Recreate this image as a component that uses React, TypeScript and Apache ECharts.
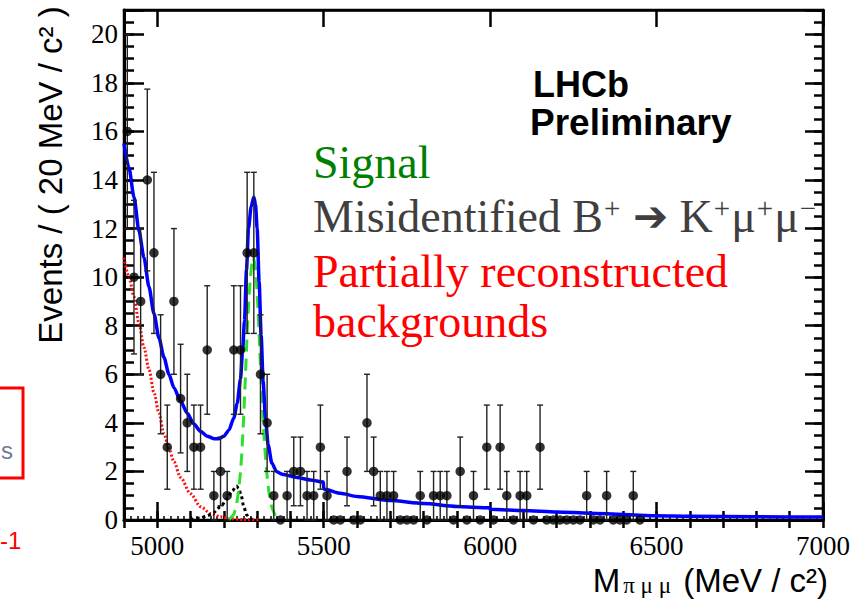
import React, { useEffect, useRef } from "react";
import * as echarts from "echarts";

// Mass window and binning of the pi mu mu candidates
const X_MIN = 4900;
const X_MAX = 7000;
const Y_MAX = 21;
const BIN_WIDTH = 20;

// Events per 20 MeV bin, starting with the 4900-4920 bin
const binCounts = [
  16, 10, 9, 14, 11, 6, 3, 9, 5, 4,
  3, 3, 7, 1, 2, 1, 7, 7, 11, 11,
  6, 4, 1, 0, 1, 2, 2, 1, 1, 3,
  1, 0, 0, 2, 0, 0, 4, 2, 1, 1,
  1, 0, 0, 0, 1, 0, 1, 1, 1, 0,
  2, 0, 1, 0, 3, 0, 3, 1, 0, 1,
  1, 0, 3, 0, 0, 0, 0, 0, 0, 1,
  0, 0, 1, 0, 0, 0, 1, 0,
];

// Total fit
const totalMass = [
  4900, 4915, 4930, 4945, 4960, 4975, 4990, 5005, 5020, 5035, 5050, 5070, 5090,
  5110, 5130, 5150, 5170, 5185, 5200, 5215, 5230, 5240, 5250, 5256, 5262, 5268,
  5274, 5282, 5290, 5295, 5300, 5306, 5312, 5318, 5325, 5333, 5344, 5358, 5375,
  5420, 5460, 5499, 5500, 5550, 5600, 5700, 5800, 5900, 5999, 6000, 6100, 6200,
  6300, 6400, 6500, 6600, 6800, 7000,
];
const totalValue = [
  15.5, 14.5, 13.3, 11.9, 10.8, 9.6, 8.5, 7.5, 6.7, 6.0, 5.45, 4.9, 4.4,
  3.95, 3.65, 3.45, 3.35, 3.35, 3.45, 3.7, 4.2, 4.8, 5.8, 6.9, 8.2, 10.3,
  12.0, 12.9, 13.3, 13.0, 12.0, 9.8, 7.6, 5.7, 4.2, 3.1, 2.35, 2.0, 1.88,
  1.75, 1.65, 1.56, 1.28, 1.1, 0.97, 0.8, 0.68, 0.56, 0.5, 0.44, 0.39, 0.33,
  0.28, 0.23, 0.17, 0.15, 0.13, 0.12,
];

// Signal component
const signalMass = [
  5215, 5230, 5240, 5250, 5258, 5265, 5272, 5280, 5288, 5295, 5302, 5308, 5314,
  5320, 5328, 5336, 5345, 5355, 5365,
];
const signalValue = [
  0, 0.25, 0.8, 2.0, 3.8, 6.0, 8.3, 10.0, 10.8, 10.3, 8.8, 7.0, 5.2,
  3.6, 2.1, 1.1, 0.5, 0.18, 0,
];

// Misidentified B+ -> K+ mu+ mu- component
const misidMass = [5100, 5130, 5150, 5170, 5190, 5210, 5225, 5238, 5245, 5252, 5260, 5268, 5278, 5290];
const misidValue = [0.02, 0.08, 0.18, 0.32, 0.55, 0.88, 1.2, 1.4, 1.3, 1.0, 0.55, 0.22, 0.05, 0];

// Partially reconstructed backgrounds
const partRecoMass = [
  4900, 4915, 4930, 4945, 4960, 4975, 4990, 5005, 5020, 5035, 5050, 5070, 5100,
  5130, 5160, 5190, 5220, 5260, 5310,
];
const partRecoValue = [
  10.8, 10.0, 9.2, 8.1, 7.1, 6.2, 5.25, 4.4, 3.55, 2.95, 2.4, 1.75, 1.08,
  0.55, 0.27, 0.13, 0.05, 0.02, 0,
];

const SERIF = "'Liberation Serif', 'DejaVu Serif', serif";
const SANS = "'Liberation Sans', Arial, 'DejaVu Sans', sans-serif";

const pairs = (xs: number[], ys: number[]) => xs.map((x, i) => [x, ys[i]]);

export default function App() {
  const ref = useRef<HTMLDivElement>(null);

  useEffect(() => {
    if (!ref.current) return;
    const chart = echarts.init(ref.current, undefined, { renderer: "svg" });

    const points = binCounts.map((n, i) => [X_MIN + BIN_WIDTH * (i + 0.5), n]);
    const errors = binCounts
      .map((n, i) => [X_MIN + BIN_WIDTH * (i + 0.5), n - Math.sqrt(n), n + Math.sqrt(n), n])
      .filter((d) => d[3] > 0);

    const tickLine = { color: "#000", width: 2.5 };
    const hidden = { show: false };

    const xBase = {
      type: "value" as const,
      min: X_MIN,
      max: X_MAX,
      splitLine: hidden,
      axisLabel: hidden,
      axisLine: hidden,
    };
    const yBase = {
      type: "value" as const,
      min: 0,
      max: Y_MAX,
      splitLine: hidden,
      axisLabel: hidden,
      axisLine: hidden,
    };

    const mainText = { fontFamily: SERIF, fontSize: 46, lineHeight: 46, fill: "#3f3f3f" };
    const supText = {
      fontFamily: SERIF,
      fontSize: 29,
      lineHeight: 30,
      fill: "#3f3f3f",
      verticalAlign: "top",
      padding: [0, 1, 0, 1],
    };

    const option: any = {
      animation: false,
      backgroundColor: "#fff",
      grid: {
        left: 124,
        right: 45,
        top: 10,
        bottom: 84,
        show: true,
        borderColor: "#000",
        borderWidth: 2.5,
        backgroundColor: "transparent",
      },
      xAxis: [
        {
          ...xBase,
          position: "bottom",
          minInterval: 500,
          maxInterval: 500,
          axisLine: { show: true, onZero: false, lineStyle: { color: "#000", width: 3 } },
          axisTick: { show: true, inside: true, length: 18, lineStyle: tickLine },
          axisLabel: {
            show: true,
            margin: 12,
            fontFamily: "Liberation Serif",
            fontSize: 27,
            color: "#000",
            formatter: (v: number) => (v % 500 === 0 ? String(v) : ""),
          },
        },
        {
          ...xBase,
          position: "bottom",
          interval: 100,
          axisTick: { show: true, inside: true, length: 9, lineStyle: tickLine },
        },
        {
          ...xBase,
          position: "bottom",
          interval: 20,
          axisTick: { show: true, inside: true, length: 4, lineStyle: { color: "#000", width: 1.5 } },
        },
        {
          ...xBase,
          position: "top",
          minInterval: 500,
          maxInterval: 500,
          axisLine: { show: true, onZero: false, lineStyle: { color: "#000", width: 2.5 } },
          axisTick: { show: true, inside: true, length: 17, lineStyle: tickLine },
        },
        {
          ...xBase,
          position: "top",
          interval: 100,
          axisTick: { show: true, inside: true, length: 8, lineStyle: tickLine },
        },
      ],
      yAxis: [
        {
          ...yBase,
          position: "left",
          interval: 2,
          axisLine: { show: true, onZero: false, lineStyle: { color: "#000", width: 3 } },
          axisTick: { show: true, inside: true, length: 20, lineStyle: tickLine },
          axisLabel: {
            show: true,
            margin: 6,
            fontFamily: "Liberation Serif",
            fontSize: 27,
            color: "#000",
            formatter: (v: number) => (v <= 20 ? String(v) : ""),
          },
        },
        {
          ...yBase,
          position: "left",
          interval: 0.5,
          axisTick: { show: true, inside: true, length: 10, lineStyle: tickLine },
        },
        {
          ...yBase,
          position: "right",
          interval: 2,
          axisLine: { show: true, onZero: false, lineStyle: { color: "#000", width: 2.5 } },
          axisTick: { show: true, inside: true, length: 18, lineStyle: tickLine },
        },
        {
          ...yBase,
          position: "right",
          interval: 0.5,
          axisTick: { show: true, inside: true, length: 9, lineStyle: tickLine },
        },
      ],
      series: [
        {
          name: "Partially reconstructed",
          type: "line",
          data: pairs(partRecoMass, partRecoValue),
          showSymbol: false,
          smooth: 0.3,
          smoothMonotone: "x",
          lineStyle: { color: "#ff1010", width: 3, type: [2, 2] },
          z: 3,
        },
        {
          name: "Misidentified",
          type: "line",
          data: pairs(misidMass, misidValue),
          showSymbol: false,
          smooth: 0.3,
          smoothMonotone: "x",
          lineStyle: { color: "#000", width: 3, type: [3, 3] },
          z: 3,
        },
        {
          name: "Signal",
          type: "line",
          data: pairs(signalMass, signalValue),
          showSymbol: false,
          smooth: 0.3,
          lineStyle: { color: "#2ee02e", width: 3, type: [12, 7] },
          z: 4,
        },
        {
          name: "Total",
          type: "line",
          data: pairs(totalMass, totalValue),
          showSymbol: false,
          smooth: 0.25,
          smoothMonotone: "x",
          lineStyle: { color: "#0000ff", width: 3.5 },
          z: 5,
        },
        {
          name: "Errors",
          type: "custom",
          data: errors,
          z: 6,
          renderItem: (_params: any, api: any) => {
            const x = api.value(0);
            const top = api.coord([x, api.value(2)]);
            const bot = api.coord([x, api.value(1)]);
            const cap = 3;
            const st = { stroke: "#222", lineWidth: 1.4 };
            return {
              type: "group",
              children: [
                { type: "line", shape: { x1: top[0], y1: top[1], x2: bot[0], y2: bot[1] }, style: st },
                { type: "line", shape: { x1: top[0] - cap, y1: top[1], x2: top[0] + cap, y2: top[1] }, style: st },
                { type: "line", shape: { x1: bot[0] - cap, y1: bot[1], x2: bot[0] + cap, y2: bot[1] }, style: st },
              ],
            };
          },
        },
        {
          name: "Data",
          type: "scatter",
          data: points,
          symbol: "circle",
          symbolSize: 9.5,
          itemStyle: { color: "#000" },
          z: 7,
        },
      ],
      graphic: [
        {
          type: "text",
          x: 533,
          y: 84,
          style: { text: "LHCb", fontFamily: SANS, fontWeight: "bold", fontSize: 36, fill: "#000", verticalAlign: "middle" },
        },
        {
          type: "text",
          x: 530,
          y: 122,
          style: { text: "Preliminary", fontFamily: SANS, fontWeight: "bold", fontSize: 37, fill: "#000", verticalAlign: "middle" },
        },
        {
          type: "text",
          x: 313,
          y: 162.8,
          style: { text: "Signal", fontFamily: SERIF, fontSize: 46, fill: "#008000", verticalAlign: "middle" },
        },
        {
          type: "text",
          x: 313,
          y: 216.2,
          style: {
            text: "{t|Misidentified B}{p|+}{t| }{a|➔}{t| K}{p|+}{t|μ}{p|+}{t|μ}{p|−}",
            verticalAlign: "middle",
            rich: {
              t: mainText,
              p: supText,
              a: { fontFamily: "'DejaVu Sans', sans-serif", fontSize: 42, lineHeight: 46, fill: "#3f3f3f" },
            },
          },
        },
        {
          type: "text",
          x: 313,
          y: 271.2,
          style: { text: "Partially reconstructed", fontFamily: SERIF, fontSize: 46, fill: "#ff0000", verticalAlign: "middle" },
        },
        {
          type: "text",
          x: 313,
          y: 321.2,
          style: { text: "backgrounds", fontFamily: SERIF, fontSize: 46, fill: "#ff0000", verticalAlign: "middle" },
        },
        {
          type: "text",
          x: 50,
          y: 175,
          rotation: Math.PI / 2,
          style: {
            text: "Events / ( 20 MeV / c² )",
            fontFamily: SANS,
            fontSize: 33,
            fill: "#000",
            align: "center",
            verticalAlign: "middle",
          },
        },
        {
          type: "text",
          x: 828,
          y: 597,
          style: {
            text: "{m|M}{s|π μ μ}{m| (MeV / c²)}",
            align: "right",
            verticalAlign: "bottom",
            rich: {
              m: { fontFamily: SANS, fontSize: 33, lineHeight: 33, fill: "#000" },
              s: { fontFamily: SERIF, fontSize: 23, lineHeight: 12, fill: "#000", verticalAlign: "bottom", padding: [0, 3, 0, 3] },
            },
          },
        },
        {
          type: "rect",
          shape: { x: -6, y: 388, width: 29, height: 90 },
          style: { fill: "none", stroke: "#ff0000", lineWidth: 3 },
        },
        {
          type: "text",
          x: 1,
          y: 450,
          style: { text: "s", fontFamily: SANS, fontSize: 24, fill: "#6d7d92", verticalAlign: "middle" },
        },
        {
          type: "text",
          x: 0,
          y: 540,
          style: { text: "-1", fontFamily: SANS, fontSize: 24, fill: "#ff0000", verticalAlign: "middle" },
        },
      ],
    };

    chart.setOption(option);
    return () => chart.dispose();
  }, []);

  return (
    <div
      ref={ref}
      style={{ position: "fixed", left: 0, top: 0, width: 868, height: 604, background: "#fff" }}
    />
  );
}
